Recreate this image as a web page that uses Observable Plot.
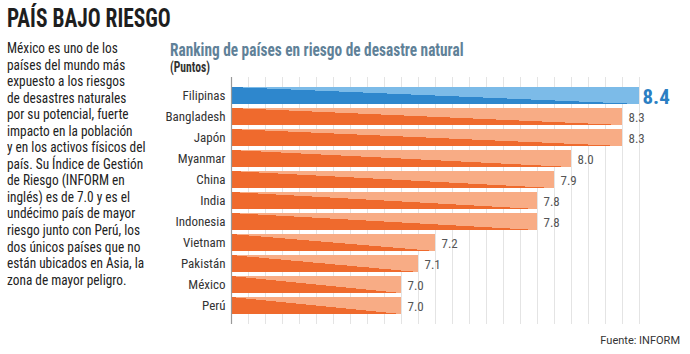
<!DOCTYPE html>
<html><head><meta charset="utf-8">
<script src="https://cdn.jsdelivr.net/npm/d3@7"></script>
<script src="https://cdn.jsdelivr.net/npm/@observablehq/plot@0.6"></script>
<style>
body{margin:0;background:#fff;}
#wrap{position:relative;width:690px;height:354px;overflow:hidden;font-family:"Liberation Sans Narrow","Roboto Condensed","DejaVu Sans Condensed",Roboto,sans-serif;color:#222;}
#chart{position:absolute;left:0;top:0;}
.t{position:absolute;white-space:nowrap;transform-origin:0 0;}
#title{left:7px;top:3px;font-size:25.5px;font-weight:bold;color:#1e1e1e;transform:scaleX(0.84);}
#para{left:7px;top:40px;font-size:14.8px;line-height:16.55px;color:#222;transform:scaleX(0.9);}
#ctitle{left:170px;top:40px;font-size:17.5px;font-weight:bold;color:#5f8198;transform:scaleX(0.875);}
#unit{left:170px;top:59px;font-size:14.5px;font-weight:bold;color:#333;transform:scaleX(0.8);}
#source{right:10px;top:334px;font-family:Roboto,"Liberation Sans",sans-serif;font-size:11px;color:#333;}
</style></head><body>
<div id="wrap">
  <div id="chart"></div>
  <div class="t" id="title">PAÍS BAJO RIESGO</div>
  <div class="t" id="para"></div>
  <div class="t" id="ctitle">Ranking de países en riesgo de desastre natural</div>
  <div class="t" id="unit">(Puntos)</div>
  <div class="t" id="source">Fuente: INFORM</div>
</div>
<script>
const countries = ["Filipinas","Bangladesh","Japón","Myanmar","China","India","Indonesia","Vietnam","Pakistán","México","Perú"];
const scores = [8.4, 8.3, 8.3, 8.0, 7.9, 7.8, 7.8, 7.2, 7.1, 7.0, 7.0];
const highlighted = ["Filipinas"];
const gridTicks = [6.1,6.2,6.3,6.4,6.5,6.6,6.7,6.8,6.9,7.0,7.1,7.2,7.3,7.4,7.5,7.6,7.7,7.8,7.9,8.0,8.1,8.2,8.3,8.4];
const paragraphLines = [
  "México es uno de los",
  "países del mundo más",
  "expuesto a los riesgos",
  "de desastres naturales",
  "por su potencial, fuerte",
  "impacto en la población",
  "y en los activos físicos del",
  "país. Su Índice de Gestión",
  "de Riesgo (INFORM en",
  "inglés) es de 7.0 y es el",
  "undécimo país de mayor",
  "riesgo junto con Perú, los",
  "dos únicos países que no",
  "están ubicados en Asia, la",
  "zona de mayor peligro."
];
const baseline = 6;

document.getElementById("para").innerHTML = paragraphLines.join("<br>");

const data = countries.map((c, i) => ({country: c, score: scores[i], hl: highlighted.includes(c)}));
const fmt = d3.format(".1f");

function defs() {
  const svg = d3.create("svg:defs");
  const mk = (id, light, dark) => {
    const g = svg.append("linearGradient").attr("id", id)
      .attr("x1", 1).attr("y1", 0).attr("x2", 0).attr("y2", 1);
    g.append("stop").attr("offset", "0.5").attr("stop-color", light);
    g.append("stop").attr("offset", "0.5").attr("stop-color", dark);
  };
  mk("gOrange", "#f8ac85", "#ef6a2d");
  mk("gBlue", "#7cbbe8", "#2e87cd");
  return svg.node();
}

const chart = Plot.plot({
  width: 690, height: 354,
  marginLeft: 231, marginRight: 17, marginTop: 77, marginBottom: 30,
  style: {fontFamily: '"Liberation Sans Narrow","Roboto Condensed","DejaVu Sans Condensed",Roboto,sans-serif', background: "transparent"},
  x: {domain: [6, 8.6], axis: null},
  y: {domain: countries, axis: null, paddingInner: 0.2, paddingOuter: 0.1, insetTop: 4, insetBottom: 5},
  marks: [
    defs,
    Plot.ruleX(gridTicks, {stroke: "#e4e4e4", strokeWidth: 1}),
    Plot.barX(data.filter(d => !d.hl), {x1: baseline, x2: "score", y: "country", fill: "url(#gOrange)"}),
    Plot.barX(data.filter(d => d.hl), {x1: baseline, x2: "score", y: "country", fill: "url(#gBlue)"}),
    Plot.ruleX([baseline], {stroke: "#999", strokeWidth: 1.2}),
    Plot.text(data, {y: "country", text: "country", frameAnchor: "left", textAnchor: "end", dx: -6, fontSize: 13, fill: "#333"}),
    Plot.text(data.filter(d => !d.hl), {x: "score", y: "country", text: d => fmt(d.score), textAnchor: "start", dx: 6, dy: 1, fontSize: 13, fill: "#555"}),
    Plot.text(data.filter(d => d.hl), {x: "score", y: "country", text: d => fmt(d.score), textAnchor: "start", dx: 3, dy: 1, fontSize: 21, fontWeight: "bold", fill: "#2b7fc3"})
  ]
});
document.getElementById("chart").appendChild(chart);
</script>
</body></html>
